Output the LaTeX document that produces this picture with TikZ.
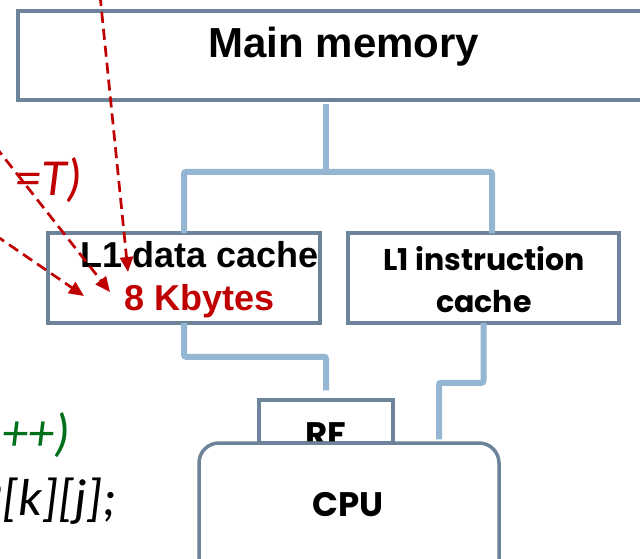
\documentclass[tikz,border=0pt]{standalone}
\usepackage{fontspec}
\setmainfont{Liberation Sans}
\newfontfamily\roundfont{Poppins}
\newfontfamily\codefont{Carlito}
\usetikzlibrary{arrows.meta}
\definecolor{boxline}{HTML}{6C8399}
\definecolor{busblue}{HTML}{94B6D2}
\definecolor{hotred}{HTML}{C00000}
\definecolor{loopgreen}{HTML}{00701A}
\tikzset{
  unit/.style={draw=boxline, line width=3.5pt, fill=white, inner sep=0pt},
  bus/.style={draw=busblue, line width=6pt, rounded corners=2pt},
  hint/.style={draw=hotred, line width=2.7pt, dash pattern=on 11pt off 6pt,
    -{Triangle[length=15pt,width=13pt]}},
  big/.style={font=\bfseries\fontsize{36}{43}\selectfont},
  code/.style={font=\codefont\itshape\fontsize{52}{60}\selectfont, anchor=base east},
}
\begin{document}
\begin{tikzpicture}[x=1pt, y=-1pt]
  \useasboundingbox (0,0) rectangle (640,559);
  % partial loop text on the left
  \node[code, text=hotred] (cond) at (86,195) {=T)};
  \node[code, text=loopgreen] (incr) at (74,450) {++)};
  \node[code] (body) at (120,515) {B[k][j];};
  % memory hierarchy
  \node[unit, minimum width=652pt, minimum height=89pt] (mem) at (344,55.5) {};
  \node[font=\bfseries\fontsize{42}{50}\selectfont] (memtext) at (344,47) {Main memory};
  \node[unit, minimum width=272pt, minimum height=90pt] (l1d) at (184,278) {};
  \node[big, align=center] (l1dtext) at (200,280) {L1 data cache\\\textcolor{hotred}{8 Kbytes}};
  \node[unit, minimum width=271pt, minimum height=90pt] (l1i) at (483.5,278) {};
  \node[font=\roundfont\bfseries\fontsize{30}{42}\selectfont, align=center] (l1itext) at (484,280) {L1 instruction\\cache};
  \node[unit, minimum width=134pt, minimum height=43pt] (rf) at (326,421.5) {};
  \node[font=\roundfont\bfseries\fontsize{34}{40}\selectfont, anchor=base] (rftext) at (326,446) {RF};
  \node[unit, rounded corners=20pt, minimum width=300pt, minimum height=197pt] (cpu) at (349,541.5) {};
  \node[font=\roundfont\bfseries\fontsize{34}{40}\selectfont] (cputext) at (348,505) {CPU};
  % buses
  \coordinate (split) at (326,172);
  \draw[bus] ([xshift=-18pt,yshift=-2pt]mem.south) -- (split);
  \draw[bus] ([yshift=-2pt]l1d.north) |- (split) -| ([xshift=8.5pt,yshift=-2pt]l1i.north);
  \draw[bus] ([yshift=2pt]l1d.south) -- ++(0,34) -| ([yshift=8pt]rf.north);
  \draw[bus] ([yshift=2pt]l1i.south) -- ++(0,60) -| ([xshift=90pt,yshift=2pt]cpu.north);
  % red hints
  \coordinate (fromtop) at (100,-5);
  \coordinate (fromcond) at (-5,146);
  \coordinate (fromleft) at (-5,235);
  \coordinate (hitA) at (128,272);
  \coordinate (hitB) at (110,292);
  \coordinate (hitC) at (84,296);
  \draw[hint] (fromtop) -- (hitA);
  \draw[hint] (fromcond) -- (hitB);
  \draw[hint] (fromleft) -- (hitC);
\end{tikzpicture}
\end{document}
